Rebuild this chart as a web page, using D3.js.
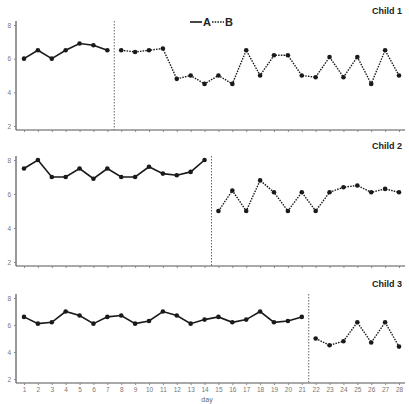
<!DOCTYPE html>
<html>
<head>
<meta charset="utf-8">
<script src="https://cdn.jsdelivr.net/npm/d3@7"></script>
<style>
  body { margin: 0; background: #fff; }
  svg { display: block; font-family: "Liberation Sans", Arial, sans-serif; }
</style>
</head>
<body>
<div id="chart"></div>
<script>
// days 1..28
const days = d3.range(1, 29);
const yTicks = [2, 4, 6, 8];
const childNames = ['Child 1', 'Child 2', 'Child 3'];
// last day of phase A for each child
const phaseEnd = [7, 14, 21];

const child1 = [6.0, 6.5, 6.0, 6.5, 6.9, 6.8, 6.5, 6.5, 6.4, 6.5, 6.6, 4.8, 5.0, 4.5,
                5.0, 4.5, 6.5, 5.0, 6.2, 6.2, 5.0, 4.9, 6.1, 4.9, 6.1, 4.5, 6.5, 5.0];
const child2 = [7.5, 8.0, 7.0, 7.0, 7.5, 6.9, 7.5, 7.0, 7.0, 7.6, 7.2, 7.1, 7.3, 8.0,
                5.0, 6.2, 5.0, 6.8, 6.1, 5.0, 6.1, 5.0, 6.1, 6.4, 6.5, 6.1, 6.3, 6.1];
const child3 = [6.6, 6.1, 6.2, 7.0, 6.7, 6.1, 6.6, 6.7, 6.1, 6.3, 7.0, 6.7, 6.1, 6.4,
                6.6, 6.2, 6.4, 7.0, 6.2, 6.3, 6.6, 5.0, 4.5, 4.8, 6.2, 4.7, 6.2, 4.4];
const series = [child1, child2, child3];

const width = 409, height = 404;

// panel layout: pixel for value 8 and value 2, axis bottom
const panels = [
    { top: 21, y8: 25, y2: 126, bottom: 130 },
    { top: 156, y8: 160, y2: 262, bottom: 266 },
    { top: 294, y8: 298, y2: 379, bottom: 383 }
];

const svg = d3.select('#chart').append('svg')
    .attr('width', width)
    .attr('height', height);

const x = d3.scaleLinear().domain([1, 28]).range([24, 399]);
const axisLeftX = 16, axisRightX = 405;

const ink = '#1a1a1a';
const axisColor = '#555';

panels.forEach((p, i) => {
    const y = d3.scaleLinear().domain([2, 8]).range([p.y2, p.y8]);
    const g = svg.append('g');

    // x axis
    const xAxis = g.append('g')
        .attr('transform', `translate(0,${p.bottom})`)
        .call(d3.axisBottom(x).tickValues(days).tickSize(2).tickPadding(2)
            .tickFormat(i === 2 ? d3.format('d') : ''));
    xAxis.select('.domain').attr('d', `M${axisLeftX},0H${axisRightX}`)
        .attr('stroke', axisColor).attr('stroke-width', 1.2);
    xAxis.selectAll('.tick line').attr('stroke', '#888');
    xAxis.selectAll('text').attr('fill', '#777').style('font-size', '6.5px');

    // y axis
    const yAxis = g.append('g')
        .attr('transform', `translate(${axisLeftX},0)`)
        .call(d3.axisLeft(y).tickValues(yTicks).tickSize(2).tickPadding(3)
            .tickFormat(d3.format('d')));
    yAxis.select('.domain').attr('d', `M0,${p.top}V${p.bottom}`)
        .attr('stroke', axisColor).attr('stroke-width', 1.2);
    yAxis.selectAll('.tick line').attr('stroke', '#888');
    yAxis.selectAll('text').attr('fill', '#777').style('font-size', '6.5px');

    // phase change line
    const px = (x(phaseEnd[i]) + x(phaseEnd[i] + 1)) / 2;
    g.append('line')
        .attr('x1', px).attr('x2', px)
        .attr('y1', p.top).attr('y2', p.bottom)
        .attr('stroke', '#666')
        .attr('stroke-width', 1)
        .attr('stroke-dasharray', '1.5,1.5');

    const pts = days.map((d, k) => ({ day: d, v: series[i][k] }));
    const phaseA = pts.filter(d => d.day <= phaseEnd[i]);
    const phaseB = pts.filter(d => d.day > phaseEnd[i]);
    const line = d3.line().x(d => x(d.day)).y(d => y(d.v));

    g.append('path').datum(phaseA)
        .attr('d', line)
        .attr('fill', 'none')
        .attr('stroke', ink)
        .attr('stroke-width', 1.6);

    g.append('path').datum(phaseB)
        .attr('d', line)
        .attr('fill', 'none')
        .attr('stroke', ink)
        .attr('stroke-width', 1.4)
        .attr('stroke-dasharray', '1.5,1.2');

    g.selectAll('.dot')
        .data(pts)
        .join('circle')
        .attr('cx', d => x(d.day))
        .attr('cy', d => y(d.v))
        .attr('r', 2.3)
        .attr('fill', ink);

    // panel title
    g.append('text')
        .attr('x', 402)
        .attr('y', p.top - 7)
        .attr('text-anchor', 'end')
        .style('font-size', '9px')
        .style('font-weight', 'bold')
        .attr('fill', '#222')
        .text(childNames[i]);
});

// x axis title
svg.append('text')
    .attr('x', 207)
    .attr('y', 402)
    .attr('text-anchor', 'middle')
    .style('font-size', '7px')
    .attr('fill', '#666')
    .text('day');

// legend
const legend = svg.append('g').attr('transform', 'translate(190,22)');
legend.append('line')
    .attr('x1', 0).attr('x2', 12).attr('y1', 0).attr('y2', 0)
    .attr('stroke', ink).attr('stroke-width', 1.6);
legend.append('text')
    .attr('x', 13).attr('y', 4)
    .style('font-size', '11px').style('font-weight', 'bold')
    .attr('fill', '#222')
    .text('A');
legend.append('line')
    .attr('x1', 22).attr('x2', 34).attr('y1', 0).attr('y2', 0)
    .attr('stroke', ink).attr('stroke-width', 1.4)
    .attr('stroke-dasharray', '1.5,1.2');
legend.append('text')
    .attr('x', 35).attr('y', 4)
    .style('font-size', '11px').style('font-weight', 'bold')
    .attr('fill', '#222')
    .text('B');
</script>
</body>
</html>
